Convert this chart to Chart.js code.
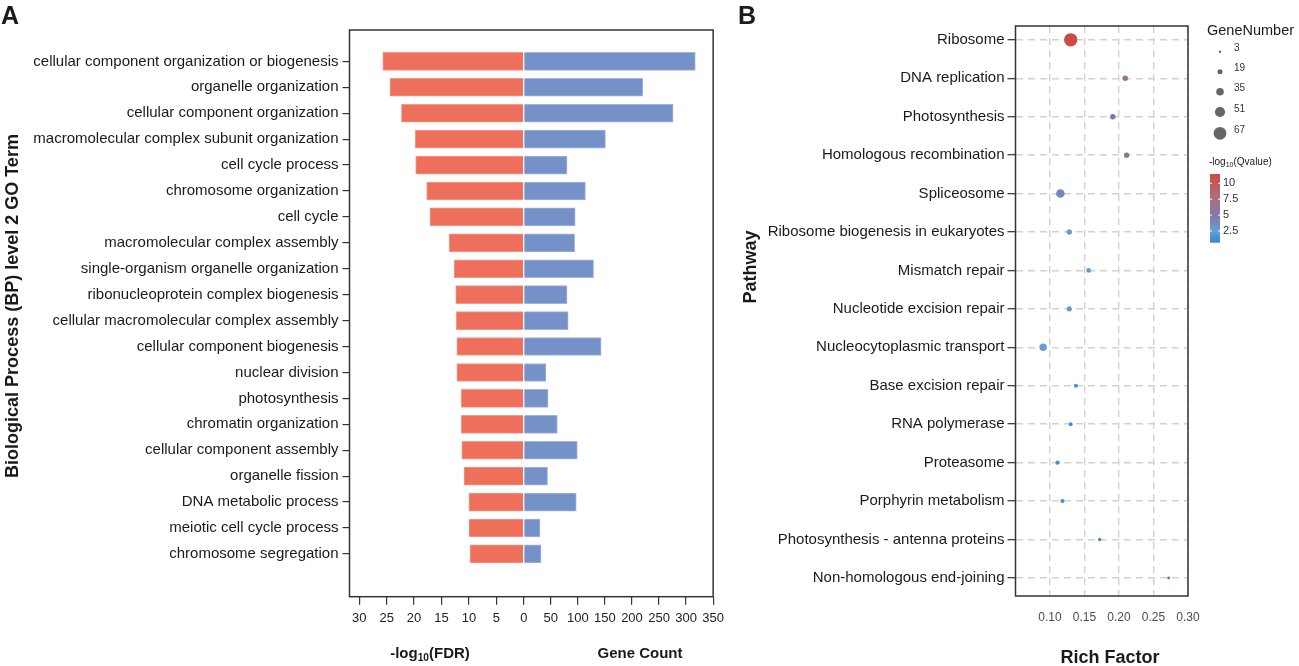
<!DOCTYPE html>
<html>
<head>
<meta charset="utf-8">
<script src="https://cdn.jsdelivr.net/npm/chart.js@4/dist/chart.umd.min.js"></script>
<style>
  body { margin: 0; background: #fff; font-family: "Liberation Sans", Arial, sans-serif; color: #1a1a1a; }
  #wrap { position: relative; width: 1299px; height: 666px; overflow: hidden; }
  canvas { position: absolute; top: 0; }
  .lbl { position: absolute; font-weight: bold; white-space: nowrap; }
  .ytitle { position: absolute; font-weight: bold; white-space: nowrap; transform: translate(-50%, -50%) rotate(-90deg); }
  .xtitle { position: absolute; font-weight: bold; white-space: nowrap; transform: translate(-50%, -50%); }
  sub { font-size: 0.68em; vertical-align: -0.35em; line-height: 0; }
</style>
</head>
<body>
<div id="wrap">
  <canvas id="chart-go" width="730" height="666" style="left:0"></canvas>
  <canvas id="chart-kegg" width="569" height="666" style="left:730px"></canvas>

  <div class="lbl" style="left:1px; top:1px; font-size:25px">A</div>
  <div class="lbl" style="left:738px; top:1px; font-size:25px">B</div>
  <div class="ytitle" style="left:12px; top:306px; font-size:18px">Biological Process (BP) level 2 GO Term</div>
  <div class="ytitle" style="left:750px; top:267px; font-size:18px">Pathway</div>
  <div class="xtitle" style="left:430px; top:652px; font-size:15px">-log<sub>10</sub>(FDR)</div>
  <div class="xtitle" style="left:640px; top:652px; font-size:15px">Gene Count</div>
  <div class="xtitle" style="left:1110px; top:657px; font-size:18px">Rich Factor</div>
</div>

<script>
// ---- Panel A: GO terms ----
const goTerms = [
  "cellular component organization or biogenesis",
  "organelle organization",
  "cellular component organization",
  "macromolecular complex subunit organization",
  "cell cycle process",
  "chromosome organization",
  "cell cycle",
  "macromolecular complex assembly",
  "single-organism organelle organization",
  "ribonucleoprotein complex biogenesis",
  "cellular macromolecular complex assembly",
  "cellular component biogenesis",
  "nuclear division",
  "photosynthesis",
  "chromatin organization",
  "cellular component assembly",
  "organelle fission",
  "DNA metabolic process",
  "meiotic cell cycle process",
  "chromosome segregation"
];
const fdrValues = [25.7, 24.4, 22.3, 19.8, 19.7, 17.7, 17.1, 13.6, 12.7, 12.4, 12.3, 12.2, 12.2, 11.4, 11.4, 11.3, 10.9, 10.0, 10.0, 9.8];
const geneCounts = [317, 220, 276, 151, 80, 114, 95, 94, 129, 80, 82, 143, 41, 45, 62, 99, 44, 97, 30, 32];
const fdrTicks = [30, 25, 20, 15, 10, 5, 0];
const geneTicks = [50, 100, 150, 200, 250, 300, 350];

// ---- Panel B: KEGG pathways ----
const pathways = [
  "Ribosome",
  "DNA replication",
  "Photosynthesis",
  "Homologous recombination",
  "Spliceosome",
  "Ribosome biogenesis in eukaryotes",
  "Mismatch repair",
  "Nucleotide excision repair",
  "Nucleocytoplasmic transport",
  "Base excision repair",
  "RNA polymerase",
  "Proteasome",
  "Porphyrin metabolism",
  "Photosynthesis - antenna proteins",
  "Non-homologous end-joining"
];
const richFactor = [0.130, 0.209, 0.191, 0.211, 0.115, 0.128, 0.156, 0.128, 0.090, 0.1375, 0.130, 0.111, 0.118, 0.172, 0.272];
const geneNumber = [71, 22, 22, 21, 41, 21, 17, 19, 34, 13, 12, 14, 13, 8, 5];
const qValue = [11.47, 6.2, 5.0, 5.2, 3.8, 2.6, 2.2, 2.2, 2.5, 1.5, 1.3, 1.3, 1.2, 0.9, 0.65];
const richTicks = [0.10, 0.15, 0.20, 0.25, 0.30];
const sizeBreaks = [3, 19, 35, 51, 67];
const qBreaks = [10, 7.5, 5, 2.5];

// gene count drawn on the same axis as -log10(FDR): genes per FDR unit
const GENE_UNIT = 10.136;
const FONT = '"Liberation Sans", Arial, sans-serif';
Chart.defaults.font.family = FONT;

// cuadro alrededor del area de trazado
const framePlugin = {
  id: "frame",
  afterDraw(chart) {
    const { ctx, chartArea: a } = chart;
    ctx.save();
    ctx.strokeStyle = "#333";
    ctx.lineWidth = 1.5;
    ctx.strokeRect(a.left, a.top, a.right - a.left, a.bottom - a.top);
    ctx.restore();
  }
};

new Chart(document.getElementById("chart-go"), {
  type: "bar",
  data: {
    datasets: [
      {
        data: fdrValues.map((v, i) => ({ x: -v, y: i })),
        backgroundColor: "#EE6F5B",
        borderColor: "#F39A89",
        borderWidth: 1,
        barThickness: 18,
        grouped: false
      },
      {
        data: geneCounts.map((g, i) => ({ x: g / GENE_UNIT, y: i })),
        backgroundColor: "#7492C8",
        borderColor: "#A2B5DC",
        borderWidth: 1,
        barThickness: 18,
        grouped: false
      }
    ]
  },
  options: {
    indexAxis: "y",
    responsive: false,
    animation: false,
    layout: { padding: { top: 30, right: 14.3, left: 0, bottom: 0 } },
    plugins: { legend: { display: false }, tooltip: { enabled: false } },
    scales: {
      x: {
        type: "linear",
        min: -31.77,
        max: 34.53,
        afterBuildTicks: s => {
          s.ticks = fdrTicks.map(v => ({ value: -v })).concat(geneTicks.map(g => ({ value: g / GENE_UNIT })));
        },
        afterFit: s => { s.height = 69.3; },
        ticks: {
          autoSkip: false,
          maxRotation: 0,
          padding: 6,
          color: "#222",
          font: { size: 13 },
          callback: v => v <= 0 ? String(Math.round(-v)) : String(Math.round(v * GENE_UNIT))
        },
        grid: { drawOnChartArea: false, tickLength: 8, color: "#333", lineWidth: 1.2 },
        border: { display: false }
      },
      y: {
        type: "linear",
        reverse: true,
        offset: false,
        min: -1.21,
        max: 20.65,
        afterBuildTicks: s => { s.ticks = goTerms.map((_, i) => ({ value: i })); },
        afterFit: s => { s.width = 349.5; },
        ticks: {
          autoSkip: false,
          padding: 4,
          color: "#1a1a1a",
          font: { size: 15 },
          callback: v => goTerms[v]
        },
        grid: { offset: false, drawOnChartArea: false, tickLength: 7, color: "#333", lineWidth: 1.2 },
        border: { display: false }
      }
    }
  },
  plugins: [framePlugin]
});

// ---- escalas de tamano y color del panel B ----
const qMin = Math.min(...qValue);
const qMax = Math.max(...qValue);
const colorStops = [
  [0.00, [52, 137, 204]],
  [0.17, [100, 160, 214]],
  [0.40, [128, 120, 165]],
  [0.633, [172, 112, 132]],
  [0.864, [196, 88, 90]],
  [1.00, [204, 74, 68]]
];

function colorFor(q) {
  const t = Math.max(0, Math.min(1, (q - qMin) / (qMax - qMin)));
  for (let i = 1; i < colorStops.length; i++) {
    const [t1, c1] = colorStops[i];
    const [t0, c0] = colorStops[i - 1];
    if (t <= t1) {
      const f = (t - t0) / (t1 - t0);
      const c = c0.map((v, k) => Math.round(v + (c1[k] - v) * f));
      return `rgb(${c[0]},${c[1]},${c[2]})`;
    }
  }
  return "rgb(204,74,68)";
}

function radiusFor(n) {
  return 1.0 + 0.08 * n;
}

// leyendas GeneNumber y -log10(Qvalue), dibujadas a la derecha del cuadro
const keggLegend = {
  id: "keggLegend",
  afterDraw(chart) {
    const ctx = chart.ctx;
    ctx.save();
    ctx.fillStyle = "#1a1a1a";
    ctx.font = `14.5px ${FONT}`;
    ctx.textBaseline = "middle";
    ctx.fillText("GeneNumber", 477, 31);

    const rowY = [51.7, 71.7, 91.7, 112, 133.3];
    ctx.font = `10px ${FONT}`;
    sizeBreaks.forEach((n, i) => {
      ctx.fillStyle = "#666";
      ctx.beginPath();
      ctx.arc(490, rowY[i], radiusFor(n), 0, Math.PI * 2);
      ctx.fill();
      ctx.fillStyle = "#333";
      ctx.fillText(String(n), 504, rowY[i] - 3);
    });

    // titulo con subindice
    ctx.fillStyle = "#1a1a1a";
    ctx.font = `10px ${FONT}`;
    let x = 479;
    ctx.fillText("-log", x, 162);
    x += ctx.measureText("-log").width;
    ctx.font = `7px ${FONT}`;
    ctx.fillText("10", x, 165);
    x += ctx.measureText("10").width;
    ctx.font = `10px ${FONT}`;
    ctx.fillText("(Qvalue)", x, 162);

    // barra de color
    const bx = 480, bw = 10, top = 174, bottom = 242.7;
    const grad = ctx.createLinearGradient(0, bottom, 0, top);
    for (let i = 0; i <= 20; i++) {
      grad.addColorStop(i / 20, colorFor(qMin + (qMax - qMin) * i / 20));
    }
    ctx.fillStyle = grad;
    ctx.fillRect(bx, top, bw, bottom - top);
    ctx.font = `11px ${FONT}`;
    qBreaks.forEach(q => {
      const y = bottom - (q - qMin) / (qMax - qMin) * (bottom - top);
      ctx.strokeStyle = "#fff";
      ctx.lineWidth = 1;
      ctx.beginPath();
      ctx.moveTo(bx, y); ctx.lineTo(bx + 2, y);
      ctx.moveTo(bx + bw - 2, y); ctx.lineTo(bx + bw, y);
      ctx.stroke();
      ctx.fillStyle = "#333";
      ctx.fillText(String(q), bx + bw + 3, y);
    });
    ctx.restore();
  }
};

new Chart(document.getElementById("chart-kegg"), {
  type: "scatter",
  data: {
    datasets: [{
      data: pathways.map((_, i) => ({ x: richFactor[i], y: i })),
      pointRadius: c => radiusFor(geneNumber[c.dataIndex]),
      pointBackgroundColor: c => colorFor(qValue[c.dataIndex]),
      pointBorderWidth: 0
    }]
  },
  options: {
    responsive: false,
    animation: false,
    layout: { padding: { top: 26, right: 111, left: 0, bottom: 0 } },
    plugins: { legend: { display: false }, tooltip: { enabled: false } },
    scales: {
      x: {
        type: "linear",
        min: 0.05,
        max: 0.30,
        afterBuildTicks: s => { s.ticks = richTicks.map(v => ({ value: v })); },
        afterFit: s => { s.height = 70; },
        ticks: {
          autoSkip: false,
          maxRotation: 0,
          padding: 14,
          color: "#4d4d4d",
          font: { size: 12 },
          callback: v => v.toFixed(2)
        },
        grid: { drawTicks: false, color: "#d2d2d2", lineWidth: 1.4 },
        border: { display: false, dash: [7, 5] }
      },
      y: {
        type: "linear",
        reverse: true,
        min: -0.36,
        max: 14.47,
        afterBuildTicks: s => { s.ticks = pathways.map((_, i) => ({ value: i })); },
        afterFit: s => { s.width = 285.5; },
        ticks: {
          autoSkip: false,
          padding: 3,
          color: "#1a1a1a",
          font: { size: 15 },
          callback: v => pathways[v]
        },
        grid: {
          color: "#d2d2d2",
          lineWidth: 1.4,
          tickLength: 8,
          tickColor: "#333",
          tickWidth: 1.2,
          tickBorderDash: []
        },
        border: { display: false, dash: [7, 5] }
      }
    }
  },
  plugins: [framePlugin, keggLegend]
});
</script>
</body>
</html>
